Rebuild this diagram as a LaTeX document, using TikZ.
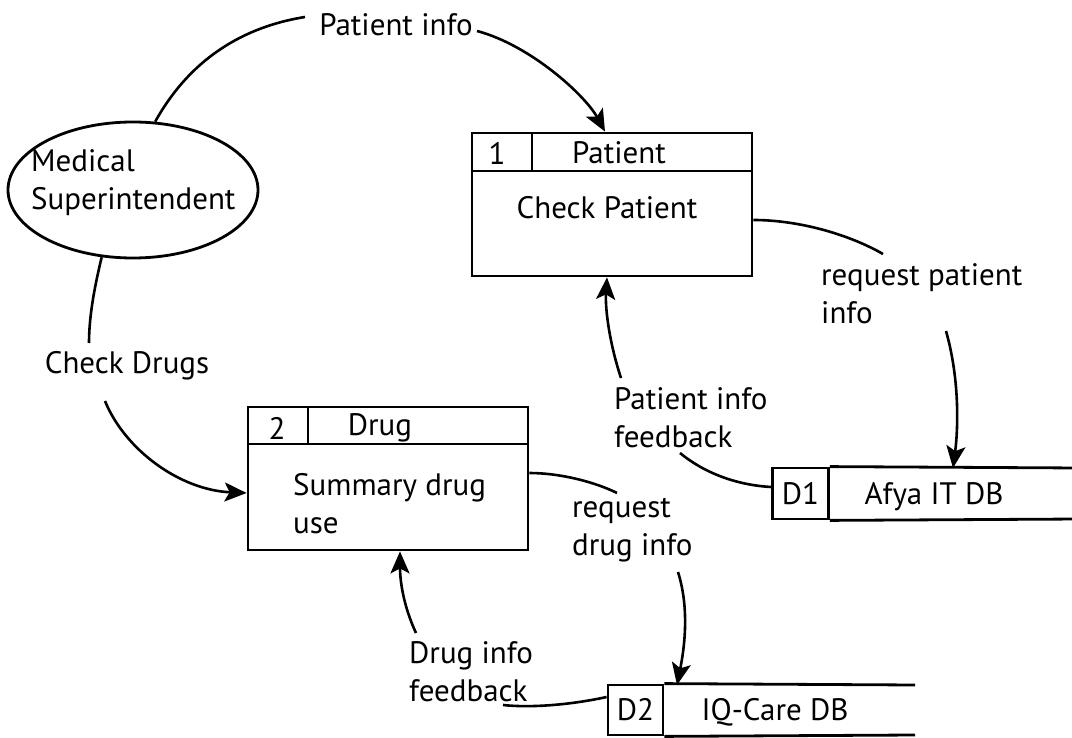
\documentclass[tikz,border=0pt]{standalone}
\usepackage{fontspec}
\setmainfont{PT Sans}
\usetikzlibrary{arrows.meta,shapes.geometric}
\begin{document}
\begin{tikzpicture}[x=1pt,y=-1pt,
  every node/.style={font=\fontsize{31}{38}\selectfont, inner sep=0pt},
  lbl/.style={align=left, anchor=west},
  boxline/.style={line width=2.8pt},
  proc/.style={draw, boxline, minimum width=280pt, minimum height=143pt},
  store/.style={draw, boxline, minimum width=56pt, minimum height=51pt},
  flow/.style={line width=2.6pt},
  arr/.style={flow, -{Stealth[length=22pt,width=19pt,inset=5pt]}}]
\useasboundingbox (0,0) rectangle (1072,738);
\clip (0,0) rectangle (1072,738);

% external entity
\node[ellipse, draw, boxline, minimum width=250pt, minimum height=136pt] (ms) at (133,190) {};
\node[lbl] (mst) at (31,183) {Medical\\Superintendent};

% process 1
\node[proc] (b1) at (612,204.5) {};
\draw[boxline] (472,171) -- (752,171);
\draw[boxline] (532,133) -- (532,171);
\node (b1id) at (497,153) {1};
\node (b1h) at (619,153) {Patient};
\node (b1t) at (607,208) {Check Patient};

% process 2
\node[proc] (b2) at (388,478.5) {};
\draw[boxline] (248,444) -- (528,444);
\draw[boxline] (308,407) -- (308,444);
\node (b2id) at (277,428) {2};
\node (b2h) at (380,428) {Drug};
\node[lbl] (b2t) at (293,503.5) {Summary drug\\use};

% data store D1
\node[store] (d1) at (800.5,493.5) {D1};
\draw[boxline] (d1.north east) -- (1080,468);
\draw[boxline] (d1.south east) -- (1080,519);
\node (d1n) at (934,497) {Afya IT DB};
\coordinate (d1top) at (953,468);

% data store D2
\node[store, minimum width=55pt, minimum height=50pt] (d2) at (635.5,710) {D2};
\draw[boxline] (d2.north east) -- (915,685);
\draw[boxline] (d2.south east) -- (915,735);
\node (d2n) at (775,712) {IQ-Care DB};
\coordinate (d2top) at (677,685);

% labels
\node (pi) at (396,25) {Patient info};
\coordinate (pi-l) at (305,17);
\coordinate (pi-r) at (477,31);
\node[lbl] (rpi) at (821,293.5) {request patient\\info};
\coordinate (rpi-a) at (883,254);
\coordinate (rpi-b) at (946,331);
\node[lbl] (pif) at (614,417.5) {Patient info\\feedback};
\coordinate (pif-a) at (680,453);
\coordinate (pif-b) at (621,378);
\node (cd) at (127,366) {Check Drugs};
\coordinate (cd-a) at (89,343);
\coordinate (cd-b) at (105,401);
\node[lbl] (rdi) at (572,530.5) {request\\drug info};
\coordinate (rdi-a) at (617,493);
\coordinate (rdi-b) at (678,572);
\node[lbl] (dif) at (409,671.5) {Drug info\\feedback};
\coordinate (dif-a) at (503,705);
\coordinate (dif-b) at (416,633);

% flows
\draw[flow] (ms.72) .. controls (195,50) and (255,25) .. (pi-l);
\draw[arr] (pi-r) .. controls (530,45) and (585,95) .. ([xshift=-7pt]b1.north);

\draw[flow] ([yshift=-15.5pt]b1.east) .. controls (800,220) and (850,235) .. (rpi-a);
\draw[arr] (rpi-b) .. controls (960,380) and (958,430) .. (d1top);

\draw[flow] ([yshift=6.5pt]d1.west) .. controls (735,485) and (703,472) .. (pif-a);
\draw[arr] (pif-b) .. controls (610,345) and (605,310) .. ([xshift=-5pt]b1.south);

\draw[flow] (ms.245) .. controls (95,285) and (89,315) .. (cd-a);
\draw[arr] (cd-b) .. controls (125,450) and (180,490) .. ([yshift=-14.5pt]b2.west);

\draw[flow] ([yshift=5.5pt]b2.east) .. controls (560,473) and (595,482) .. (rdi-a);
\draw[arr] (rdi-b) .. controls (690,610) and (684,650) .. (d2top);

\draw[flow] ([yshift=13pt]d2.west) .. controls (570,705) and (530,708) .. (dif-a);
\draw[arr] (dif-b) .. controls (403,605) and (400,580) .. ([xshift=12pt]b2.south);
\end{tikzpicture}
\end{document}
